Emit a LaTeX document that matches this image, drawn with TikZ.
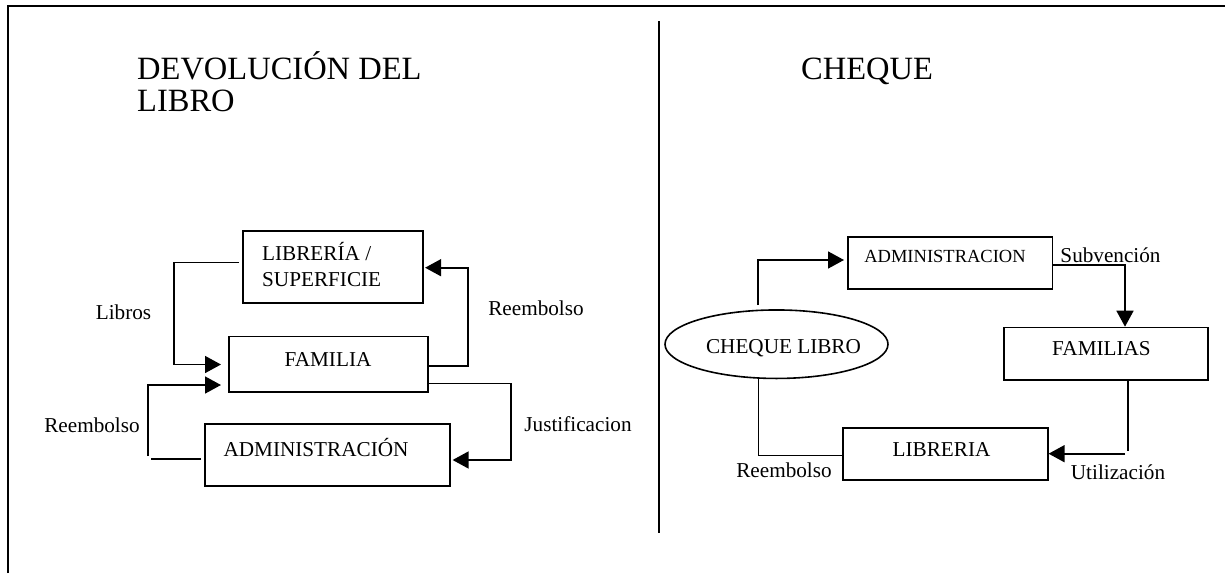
\documentclass[tikz,border=0pt]{standalone}
\usepackage{fontspec}
\setmainfont{Liberation Serif}
\usetikzlibrary{arrows.meta,calc,shapes.geometric}
\tikzset{
  x=1pt,y=-1pt,
  box/.style={draw=black,line width=1.6pt,rectangle,inner sep=0pt,anchor=north west},
  conn/.style={draw=black,line width=1.6pt},
  arr/.style={conn,-{Triangle[length=16pt,width=17pt]}},
  lab/.style={inner sep=0pt,font=\fontsize{21.2}{24}\selectfont},
  ttl/.style={inner sep=0pt,anchor=base west,font=\fontsize{32.5}{36}\selectfont}
}
\begin{document}
\begin{tikzpicture}
\useasboundingbox (0,0) rectangle (1225,573);
\fill[white] (0,0) rectangle (1225,573);
% frame and divider
\coordinate (fa) at (8,573);
\coordinate (fb) at (8,6);
\coordinate (fc) at (1225,6);
\coordinate (da) at (659,21);
\coordinate (db) at (659,533);
\draw[black,line width=1.8pt] (fa) -- (fb);
\draw[black,line width=2.4pt] (7,6) -- (fc);
\draw[black,line width=1.4pt] (da) -- (db);
% titles
\node[ttl] (t1) at (137,79) {DEVOLUCIÓN DEL};
\node[ttl] (t2) at (137,111) {LIBRO};
\node[ttl] (t3) at (801,79) {CHEQUE};
% left boxes
\node[box,minimum width=180pt,minimum height=71.7pt] (lib) at (242,230.3) {};
\node[box,minimum width=199pt,minimum height=55.3pt] (fam) at (228,335.7) {};
\node[box,minimum width=245pt,minimum height=62pt] (adm) at (204,423) {};
\node[lab,anchor=base west] (libt1) at (262,260) {LIBRERÍA /};
\node[lab,anchor=base west] (libt2) at (262,286) {SUPERFICIE};
\node[lab] (famt) at (328,359) {FAMILIA};
\node[lab] (admt) at (316,447) {ADMINISTRACIÓN};
% left labels
\node[lab] (l1) at (123.5,312) {Libros};
\node[lab] (l2) at (536,308) {Reembolso};
\node[lab] (l3) at (578,424) {Justificacion};
\node[lab] (l4) at (92,425) {Reembolso};
% left connectors
\coordinate (a1) at (174,262.3);
\coordinate (a2) at (174,364.5);
\draw[arr,shorten >=7pt,shorten <=3pt] (a1 -| lib.west) -- (a1) -- (a2) -- (a2 -| fam.west);
\coordinate (b1) at (468,366);
\coordinate (b2) at (468,267.7);
\draw[arr,shorten >=1.5pt] (b1 -| fam.east) -- (b1) -- (b2) -- (b2 -| lib.east);
\coordinate (c1) at (511,383.5);
\coordinate (c2) at (511,460);
\draw[arr,shorten >=2pt] (c1 -| fam.east) -- (c1) -- (c2) -- (c2 -| adm.east);
\coordinate (d0) at (150.5,458.7);
\coordinate (d1) at (148,456);
\coordinate (d2) at (148,385);
\draw[conn,shorten <=3pt] (d0 -| adm.west) -- (d0);
\draw[arr,shorten >=7pt] (d1) -- (d2) -- (d2 -| fam.west);
% right boxes
\node[box,minimum width=204.5pt,minimum height=52.3pt] (adr) at (847,236) {};
\node[box,minimum width=204pt,minimum height=52.3pt] (fms) at (1003,326.7) {};
\node[box,minimum width=205pt,minimum height=52pt] (lbr) at (842,427) {};
\node[draw=black,line width=1.6pt,ellipse,minimum width=223pt,minimum height=68.5pt,inner sep=0pt] (chq) at (776.5,344.2) {};
\node[lab] (chqt) at (783.5,348) {CHEQUE LIBRO};
\node[lab,font=\fontsize{18.5}{22}\selectfont] (adrt) at (945,256.7) {ADMINISTRACION};
\node[lab] (fmst) at (1101.5,348.7) {FAMILIAS};
\node[lab] (lbrt) at (941.5,450) {LIBRERIA};
% right labels
\node[lab] (r1) at (1110.5,255) {Subvención};
\node[lab] (r2) at (784,470) {Reembolso};
\node[lab] (r3) at (1118,472) {Utilización};
% right connectors
\coordinate (e0) at (758,305);
\coordinate (e1) at (758,260);
\draw[arr,shorten >=3pt] (e0) -- (e1) -- (e1 -| adr.west);
\coordinate (f1) at (1125,264.7);
\draw[arr] (f1 -| adr.east) -- (f1) -- (f1 |- fms.north);
\coordinate (g1) at (1128,450.7);
\draw[conn] (g1 |- fms.south) -- (g1);
\coordinate (h1) at (1125,453.7);
\draw[arr] (h1) -- (h1 -| lbr.east);
\coordinate (i1) at (758.5,455.3);
\coordinate (i2) at (758.5,376.7);
\draw[conn] (i1 -| lbr.west) -- (i1) -- (i2);
\end{tikzpicture}
\end{document}
